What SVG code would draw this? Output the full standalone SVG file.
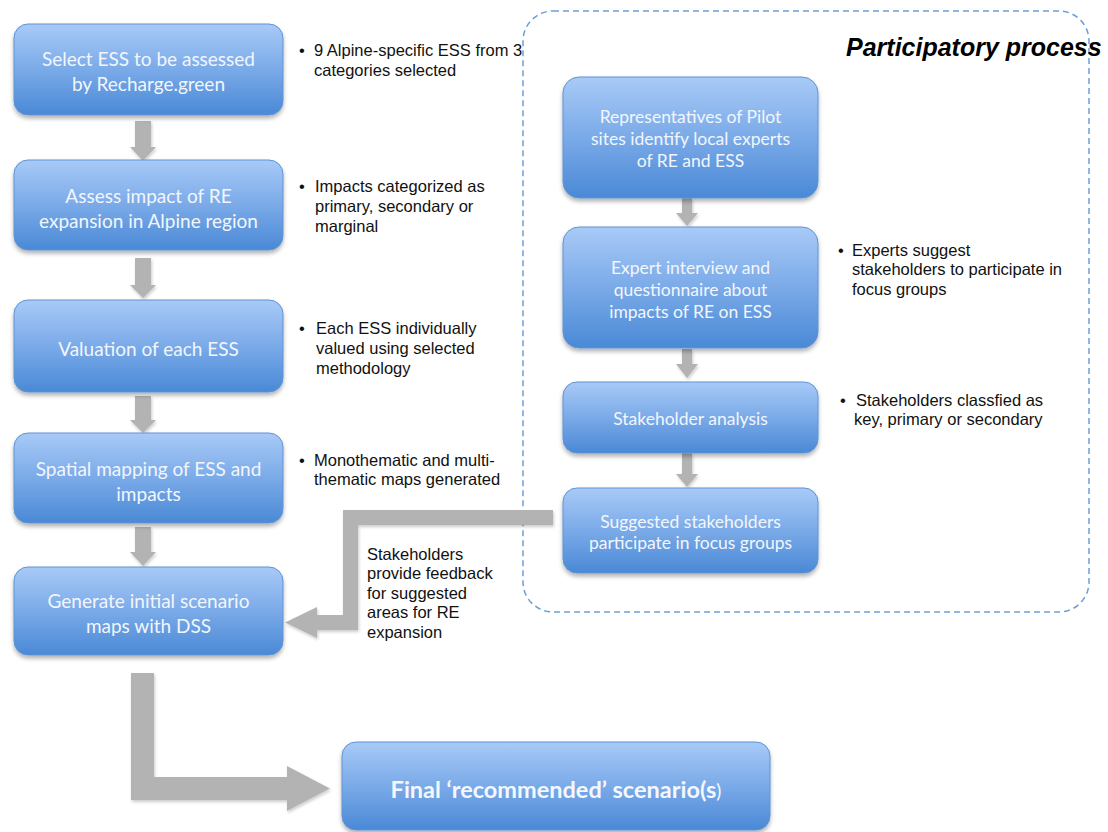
<svg xmlns="http://www.w3.org/2000/svg" width="1108" height="832" viewBox="0 0 1108 832">
<defs>
<linearGradient id="boxg" x1="0" y1="0" x2="0" y2="1">
<stop offset="0" stop-color="#a8caf7"/>
<stop offset="0.5" stop-color="#7aaae8"/>
<stop offset="1" stop-color="#4a89d6"/>
</linearGradient>
<filter id="sh" x="-10%" y="-10%" width="120%" height="130%">
<feDropShadow dx="0" dy="3" stdDeviation="2" flood-color="#000" flood-opacity="0.3"/>
</filter>
<filter id="ash" x="-20%" y="-20%" width="140%" height="140%">
<feDropShadow dx="1" dy="2" stdDeviation="1.5" flood-color="#000" flood-opacity="0.2"/>
</filter>
</defs>
<style>
.box{fill:url(#boxg);stroke:#5f93d4;stroke-width:1;filter:url(#sh)}
.bt{font-family:Lato,"Open Sans",sans-serif;font-size:19px;fill:#f2f6fc;text-anchor:middle}
.rt{font-family:Lato,"Open Sans",sans-serif;font-size:17.5px;fill:#f2f6fc;text-anchor:middle}
.ft{font-family:Lato,"Open Sans",sans-serif;font-size:23.5px;font-weight:bold;fill:#f4f8fd;text-anchor:middle}
.note{font-family:"Liberation Sans",Arial,sans-serif;font-size:16.5px;fill:#111}
.arr{fill:#b3b3b3;filter:url(#ash)}
.title{font-family:"Liberation Sans",Arial,sans-serif;font-size:25px;font-weight:bold;font-style:italic;fill:#000}
</style>
<rect width="1108" height="832" fill="#fff"/>

<g id="participatory-process">
<rect x="523" y="11" width="566" height="601" rx="30" ry="30" fill="none" stroke="#6f9fd3" stroke-width="1.5" stroke-dasharray="6 4"/>
<text class="title" x="846" y="56">Participatory process</text>
</g>

<g id="connectors">
<path class="arr" d="M135 121H151V147H156L143 161L130 147H135Z"/>
<path class="arr" d="M135 258H151V285H156L143 298L130 285H135Z"/>
<path class="arr" d="M135 396H151V420H156L143 433L130 420H135Z"/>
<path class="arr" d="M135 527H151V552H156L143 566L130 552H135Z"/>
<path class="arr" d="M682 198H692V213H698L687 226L676 213H682Z"/>
<path class="arr" d="M682 349H692V364H698L687 378L676 364H682Z"/>
<path class="arr" d="M682 453H692V474H698L687 487L676 474H682Z"/>
<path class="arr" d="M553 510H343V615H317V607L285 622.5L317 638V630H358V525H553Z"/>
<path class="arr" d="M131 673H154V777H287V766L330 788.5L287 811V800H131Z"/>
</g>

<g id="n1"><rect class="box" x="14" y="24" width="269" height="91" rx="14"/>
<text class="bt" x="148.5" y="66">Select ESS to be assessed</text>
<text class="bt" x="148.5" y="91">by Recharge.green</text></g>

<g id="n2"><rect class="box" x="14" y="160" width="269" height="90" rx="14"/>
<text class="bt" x="148.5" y="203">Assess impact of RE</text>
<text class="bt" x="148.5" y="228">expansion in Alpine region</text></g>

<g id="n3"><rect class="box" x="14" y="300" width="269" height="92" rx="14"/>
<text class="bt" x="148.5" y="356">Valuation of each ESS</text></g>

<g id="n4"><rect class="box" x="14" y="433" width="269" height="90" rx="14"/>
<text class="bt" x="148.5" y="476">Spatial mapping of ESS and</text>
<text class="bt" x="148.5" y="501">impacts</text></g>

<g id="n5"><rect class="box" x="14" y="567" width="269" height="88" rx="14"/>
<text class="bt" x="148.5" y="608">Generate initial scenario</text>
<text class="bt" x="148.5" y="633">maps with DSS</text></g>

<g id="r1"><rect class="box" x="563" y="77" width="255" height="121" rx="16"/>
<text class="rt" x="690.5" y="123">Representatives of Pilot</text>
<text class="rt" x="690.5" y="145">sites identify local experts</text>
<text class="rt" x="690.5" y="167">of RE and ESS</text></g>

<g id="r2"><rect class="box" x="563" y="227" width="255" height="121" rx="16"/>
<text class="rt" x="690.5" y="274">Expert interview and</text>
<text class="rt" x="690.5" y="296">questionnaire about</text>
<text class="rt" x="690.5" y="318">impacts of RE on ESS</text></g>

<g id="r3"><rect class="box" x="563" y="382" width="255" height="71" rx="14"/>
<text class="rt" x="690.5" y="425">Stakeholder analysis</text></g>

<g id="r4"><rect class="box" x="563" y="488" width="255" height="85" rx="14"/>
<text class="rt" x="690.5" y="528">Suggested stakeholders</text>
<text class="rt" x="690.5" y="549">participate in focus groups</text></g>

<g id="final"><rect class="box" x="342" y="742" width="428" height="88" rx="14"/>
<text class="ft" x="556" y="798">Final ‘recommended’ scenario(s<tspan font-weight="normal" font-size="19">)</tspan></text></g>

<g id="notes">
<text class="note" x="299" y="56">•</text>
<text class="note" x="314" y="56">9 Alpine-specific ESS from 3</text>
<text class="note" x="314" y="76">categories selected</text>

<text class="note" x="299" y="192">•</text>
<text class="note" x="315" y="192">Impacts categorized as</text>
<text class="note" x="315" y="212">primary, secondary or</text>
<text class="note" x="315" y="232">marginal</text>

<text class="note" x="299" y="334">•</text>
<text class="note" x="316" y="334">Each ESS individually</text>
<text class="note" x="316" y="354">valued using selected</text>
<text class="note" x="316" y="374">methodology</text>

<text class="note" x="299" y="466">•</text>
<text class="note" x="314" y="466">Monothematic and multi-</text>
<text class="note" x="314" y="485">thematic maps generated</text>

<text class="note" x="838" y="256">•</text>
<text class="note" x="852" y="256">Experts suggest</text>
<text class="note" x="852" y="275">stakeholders to participate in</text>
<text class="note" x="852" y="295">focus groups</text>

<text class="note" x="840" y="406">•</text>
<text class="note" x="856" y="406">Stakeholders classfied as</text>
<text class="note" x="854" y="425">key, primary or secondary</text>

<text class="note" x="367" y="560">Stakeholders</text>
<text class="note" x="367" y="579">provide feedback</text>
<text class="note" x="367" y="599">for suggested</text>
<text class="note" x="367" y="618">areas for RE</text>
<text class="note" x="367" y="638">expansion</text>
</g>
</svg>
